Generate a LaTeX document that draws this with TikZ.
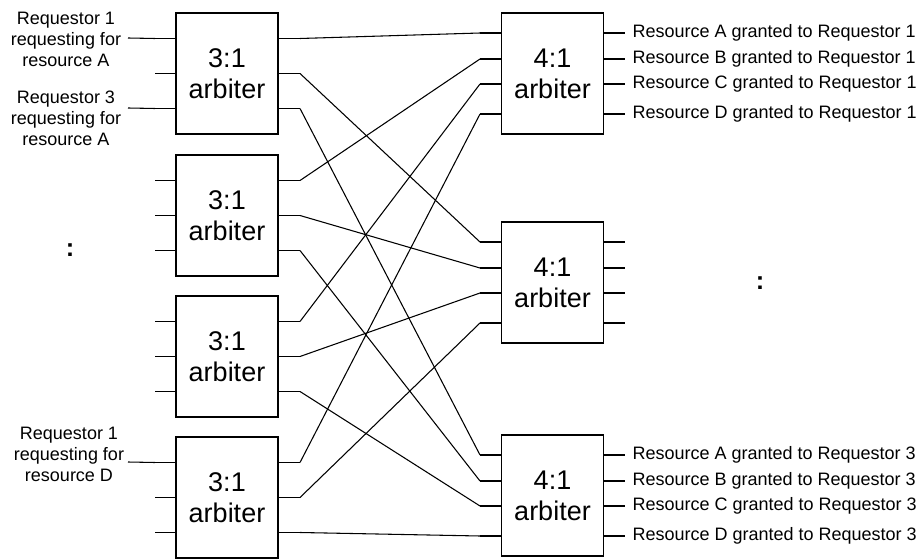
\documentclass[tikz,border=0pt]{standalone}
\usepackage{fontspec}
\setmainfont{Liberation Sans}
\begin{document}
\begin{tikzpicture}[x=0.75pt,y=-0.75pt,line width=0.8pt,
  arbbox/.style={draw,rectangle,inner sep=0pt,minimum width=76.5pt,minimum height=90.75pt,
    align=center,font=\fontsize{20.25}{23.25}\selectfont},
  reqlabel/.style={align=center,inner sep=0pt,font=\fontsize{13.5}{15.75}\selectfont},
  grantlabel/.style={anchor=west,inner sep=0pt,text height=0.72em,text depth=0pt,
    font=\fontsize{13.5}{15.75}\selectfont},
  ellip/.style={inner sep=0pt,font=\fontsize{19}{22}\selectfont\bfseries}]
\useasboundingbox (0,0) rectangle (920,559);

% first stage: four 3:1 arbiters with three inputs and three outputs each
\foreach \k/\c in {1/73.5,2/215.5,3/356.5,4/497.5}{
  \node[arbbox] (a\k) at (227,\c) {3:1\\arbiter};
  \foreach \j/\d in {1/-35,2/0,3/35}{
    \coordinate (ai\k\j) at (155,{\c+(\d)});
    \coordinate (ao\k\j) at (300,{\c+(\d)});
    \draw (ai\k\j) -- (ai\k\j -| a\k.west);
    \draw (ao\k\j -| a\k.east) -- (ao\k\j);
  }
}

% second stage: three 4:1 arbiters with four inputs and four outputs each
\foreach \k/\c in {1/73.5,2/282.5,3/495.5}{
  \node[arbbox] (b\k) at (552.5,\c) {4:1\\arbiter};
  \foreach \i/\d in {1/-40.5,2/-14.5,3/10.5,4/40.5}{
    \coordinate (bi\k\i) at (480,{\c+(\d)});
    \coordinate (bo\k\i) at (625,{\c+(\d)});
    \draw (bi\k\i) -- (bi\k\i -| b\k.west);
    \draw (bo\k\i -| b\k.east) -- (bo\k\i);
  }
}

% crossbar wiring: output j of 3:1 arbiter i feeds input i of 4:1 arbiter j
\foreach \i in {1,2,3,4}{
  \foreach \j in {1,2,3}{
    \draw (ao\i\j) -- (bi\j\i);
  }
}

% request labels
\node[reqlabel] (r1) at (66,39) {Requestor 1\\requesting for\\resource A};
\node[reqlabel] (r3) at (66,118) {Requestor 3\\requesting for\\resource A};
\node[reqlabel] (rd) at (69,454) {Requestor 1\\requesting for\\resource D};
\coordinate (r1s) at (128,38);
\coordinate (r3s) at (128,108);
\coordinate (rds) at (128,462);
\draw (r1s) -- (ai11);
\draw (r3s) -- (ai13);
\draw (rds) -- (ai41);

% grant labels
\foreach \k/\n in {1/1,3/3}{
  \foreach \i/\r in {1/A,2/B,3/C,4/D}{
    \node[grantlabel] (g\k\i) at ([xshift=5.25pt]bo\k\i) {Resource \r\ granted to Requestor \n};
  }
}

% ellipses marking omitted arbiters
\node[ellip] (dl) at (70,250) {:};
\node[ellip] (dr) at (760,283) {:};
\end{tikzpicture}
\end{document}
